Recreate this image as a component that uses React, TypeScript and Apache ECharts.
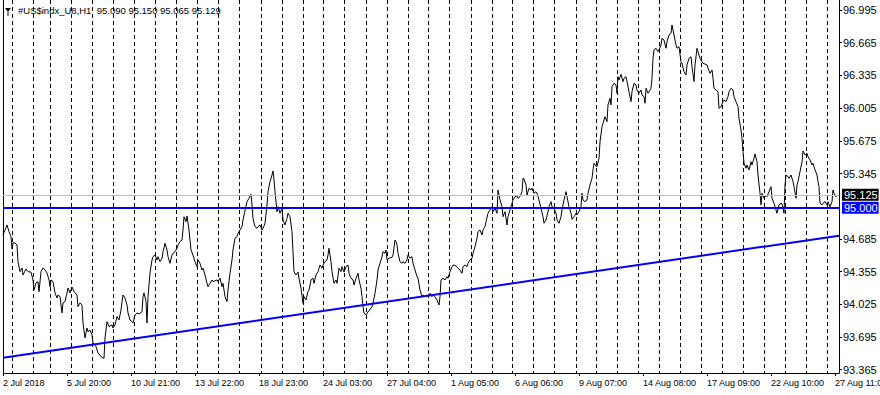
import React, { useEffect, useRef } from "react";
import * as echarts from "echarts";

const FONT = '"Liberation Sans", Arial, sans-serif';

const symbolTitle = "#US$indx_U8,H1  95.090 95.150 95.065 95.129";

// [bar index (H1 bars from 2 Jul 2018), close price]
const priceTrace: [number, number][] = [
  [0, 94.725], [2, 94.775], [4, 94.826], [6, 94.758], [8, 94.708], [9, 94.584], [10, 94.647], [12, 94.644], [14, 94.624], [15, 94.455],
  [17, 94.355], [19, 94.392], [20, 94.321], [23, 94.382], [25, 94.355], [28, 94.35], [30, 94.271], [31, 94.17], [33, 94.241], [35, 94.254],
  [36, 94.153], [38, 94.355], [40, 94.392], [42, 94.372], [44, 94.341], [46, 94.271], [47, 94.203], [48, 94.271], [50, 94.254], [52, 94.14],
  [54, 94.089], [55, 94.119], [57, 94.102], [59, 93.938], [60, 94.039], [62, 94.052], [64, 94.14], [65, 94.19], [67, 94.14], [69, 94.2],
  [71, 94.153], [74, 94.119], [75, 94.001], [77, 94.039], [79, 94.018], [80, 93.837], [82, 93.686], [84, 93.786], [85, 93.749], [87, 93.766],
  [89, 93.716], [90, 93.635], [93, 93.598], [95, 93.534], [98, 93.497], [100, 93.484], [101, 93.48], [102, 93.686], [104, 93.85], [106, 93.8],
  [109, 93.817], [110, 93.786], [112, 93.817], [114, 93.901], [116, 93.867], [118, 93.968], [119, 94.052], [120, 94.119], [122, 94.089], [124, 94.018],
  [125, 93.938], [127, 93.867], [129, 93.85], [130, 93.837], [132, 93.918], [134, 93.938], [136, 93.928], [139, 93.951], [140, 94.102], [141, 94.14],
  [143, 94.052], [144, 93.837], [145, 94.102], [147, 94.341], [149, 94.473], [150, 94.506], [152, 94.523], [154, 94.473], [155, 94.506], [157, 94.455],
  [159, 94.49], [160, 94.556], [162, 94.641], [164, 94.573], [165, 94.506], [167, 94.439], [169, 94.523], [170, 94.54], [172, 94.556], [174, 94.591],
  [175, 94.624], [177, 94.657], [179, 94.674], [180, 94.775], [181, 94.909], [183, 94.859], [184, 94.917], [186, 94.775], [188, 94.573], [190, 94.523],
  [192, 94.455], [194, 94.405], [195, 94.473], [197, 94.439], [199, 94.372], [200, 94.389], [202, 94.321], [204, 94.237], [205, 94.203], [207, 94.237],
  [209, 94.271], [210, 94.254], [214, 94.271], [215, 94.254], [217, 94.288], [219, 94.203], [220, 94.237], [222, 94.102], [224, 94.052], [225, 94.17],
  [227, 94.338], [229, 94.473], [230, 94.573], [232, 94.692], [234, 94.708], [235, 94.742], [237, 94.775], [239, 94.809], [240, 94.876], [242, 94.97],
  [244, 95.061], [246, 95.095], [248, 95.136], [249, 95.028], [250, 94.893], [252, 94.809], [254, 94.792], [255, 94.809], [257, 94.826], [259, 94.775],
  [260, 94.792], [262, 94.843], [264, 95.028], [265, 95.162], [267, 95.263], [269, 95.33], [270, 95.371], [271, 95.28], [272, 95.162], [274, 94.96],
  [275, 95.01], [277, 94.944], [279, 94.994], [280, 94.876], [282, 94.826], [284, 94.893], [285, 94.944], [287, 94.909], [289, 94.758], [290, 94.556],
  [291, 94.355], [293, 94.321], [295, 94.35], [296, 94.288], [298, 94.187], [300, 94.036], [301, 94.102], [303, 94.069], [305, 94.153], [306, 94.17],
  [308, 94.271], [310, 94.288], [311, 94.237], [313, 94.321], [315, 94.355], [317, 94.422], [319, 94.389], [320, 94.422], [322, 94.455], [324, 94.473],
  [325, 94.523], [326, 94.591], [328, 94.455], [329, 94.355], [331, 94.237], [333, 94.271], [334, 94.237], [336, 94.389], [338, 94.355], [339, 94.405],
  [341, 94.35], [343, 94.405], [345, 94.422], [346, 94.338], [348, 94.288], [350, 94.271], [351, 94.22], [353, 94.288], [355, 94.338], [356, 94.271],
  [358, 94.187], [359, 94.102], [360, 94.001], [361, 93.935], [363, 93.918], [365, 93.948], [369, 94.001], [370, 94.036], [372, 94.137], [374, 94.271],
  [375, 94.372], [377, 94.439], [379, 94.506], [380, 94.556], [382, 94.54], [383, 94.573], [384, 94.473], [386, 94.49], [389, 94.5], [390, 94.523],
  [392, 94.674], [393, 94.657], [394, 94.624], [395, 94.54], [397, 94.455], [399, 94.439], [400, 94.455], [402, 94.439], [404, 94.473], [405, 94.523],
  [407, 94.49], [409, 94.506], [410, 94.439], [412, 94.372], [414, 94.304], [415, 94.288], [417, 94.17], [419, 94.102], [420, 94.119], [422, 94.102],
  [424, 94.119], [425, 94.102], [427, 94.137], [429, 94.102], [430, 94.119], [432, 94.102], [434, 94.069], [436, 94.018], [437, 94.102], [438, 94.271],
  [440, 94.288], [442, 94.271], [444, 94.304], [445, 94.288], [447, 94.355], [449, 94.405], [450, 94.422], [452, 94.418], [454, 94.405], [455, 94.389],
  [457, 94.372], [459, 94.338], [460, 94.405], [462, 94.422], [464, 94.405], [465, 94.439], [467, 94.473], [469, 94.49], [470, 94.54], [472, 94.607],
  [474, 94.692], [475, 94.758], [477, 94.775], [479, 94.725], [480, 94.775], [481, 94.792], [482, 94.809], [483, 94.859], [485, 94.944], [487, 94.977],
  [489, 95.01], [490, 94.96], [492, 94.994], [494, 94.944], [495, 95.179], [497, 95.078], [499, 95.01], [500, 94.909], [502, 94.96], [504, 94.826],
  [505, 94.909], [507, 94.977], [509, 95.045], [510, 95.078], [512, 95.111], [514, 95.118], [515, 95.095], [517, 95.111], [519, 95.162], [520, 95.297],
  [521, 95.29], [523, 95.229], [524, 95.128], [526, 95.196], [528, 95.179], [529, 95.196], [531, 95.146], [533, 95.162], [534, 95.146], [536, 95.078],
  [538, 94.994], [540, 94.909], [541, 94.843], [543, 94.876], [545, 94.96], [546, 95.01], [548, 95.061], [549, 95.01], [551, 94.994], [553, 94.944],
  [554, 94.876], [556, 94.843], [558, 94.909], [559, 94.977], [561, 95.078], [563, 95.162], [564, 95.111], [566, 95.01], [568, 94.944], [569, 94.883],
  [571, 94.909], [573, 94.944], [574, 94.927], [576, 94.96], [578, 95.01], [579, 95.146], [580, 95.078], [582, 95.061], [584, 95.078], [585, 95.146],
  [587, 95.229], [589, 95.297], [590, 95.381], [591, 95.448], [593, 95.421], [594, 95.414], [596, 95.499], [597, 95.666], [599, 95.818], [600, 95.852],
  [602, 95.918], [604, 95.868], [605, 96.037], [607, 96.104], [608, 96.037], [609, 96.221], [611, 96.256], [613, 96.238], [614, 96.155], [615, 96.322],
  [616, 96.289], [618, 96.346], [620, 96.272], [621, 96.306], [623, 96.322], [624, 96.272], [626, 96.171], [628, 96.07], [629, 96.171], [631, 96.256],
  [633, 96.238], [634, 96.188], [636, 96.155], [638, 96.188], [639, 96.137], [641, 96.12], [642, 96.054], [643, 96.205], [645, 96.155], [646, 96.171],
  [648, 96.205], [649, 96.306], [650, 96.508], [651, 96.591], [653, 96.609], [655, 96.574], [656, 96.591], [658, 96.642], [659, 96.71], [661, 96.692],
  [663, 96.609], [664, 96.675], [666, 96.743], [668, 96.76], [669, 96.844], [671, 96.743], [673, 96.642], [674, 96.609], [676, 96.625], [678, 96.473],
  [679, 96.457], [681, 96.373], [683, 96.339], [684, 96.44], [686, 96.508], [688, 96.524], [689, 96.423], [691, 96.272], [692, 96.44], [694, 96.609],
  [695, 96.574], [697, 96.508], [699, 96.473], [700, 96.457], [702, 96.45], [704, 96.44], [705, 96.407], [707, 96.356], [709, 96.39], [710, 96.306],
  [711, 96.205], [713, 96.188], [715, 96.171], [716, 96.003], [718, 96.019], [720, 96.07], [721, 96.087], [723, 96.07], [725, 96.12], [726, 96.171],
  [728, 96.205], [730, 96.188], [731, 96.12], [733, 96.07], [735, 96.019], [736, 95.902], [738, 95.784], [739, 95.701], [740, 95.565], [741, 95.448],
  [743, 95.398], [744, 95.431], [746, 95.381], [748, 95.464], [749, 95.431], [751, 95.499], [752, 95.542], [754, 95.464], [755, 95.33], [757, 95.146],
  [758, 95.028], [759, 95.146], [761, 95.095], [763, 95.128], [764, 95.111], [766, 95.162], [768, 95.212], [769, 95.095], [771, 95.045], [773, 94.977],
  [774, 94.944], [776, 95.028], [778, 95.045], [779, 95.04], [781, 94.944], [782, 95.229], [783, 95.33], [785, 95.313], [786, 95.297], [788, 95.33],
  [790, 95.263], [791, 95.212], [793, 95.095], [794, 95.229], [795, 95.263], [797, 95.364], [799, 95.464], [800, 95.572], [802, 95.532], [804, 95.549],
  [805, 95.515], [807, 95.482], [809, 95.431], [810, 95.448], [812, 95.381], [814, 95.33], [815, 95.263], [816, 95.212], [817, 95.045], [819, 95.028],
  [820, 95.045], [822, 95.061], [824, 95.028], [825, 95.061], [827, 95.01], [829, 95.061], [830, 95.179], [831, 95.146], [833, 95.111], [834, 95.129],
];

const timeTickBars = [0, 64, 128, 192, 256, 320, 384, 448, 512, 576, 640, 704, 768, 832];
const timeTickLabels = [
  "2 Jul 2018", "5 Jul 20:00", "10 Jul 21:00", "13 Jul 22:00", "18 Jul 23:00", "24 Jul 03:00", "27 Jul 04:00",
  "1 Aug 05:00", "6 Aug 06:00", "9 Aug 07:00", "14 Aug 08:00", "17 Aug 09:00", "22 Aug 10:00", "27 Aug 11:00",
];
const dayBreakBars = [
  9, 30, 47, 68, 89, 110, 131, 152, 173, 194, 215, 236, 258, 279, 300, 320, 341, 363, 384, 405,
  425, 446, 468, 489, 509, 530, 551, 573, 593, 614, 635, 656, 677, 698, 719, 740, 761, 782, 803, 824,
];
const priceTicks = [93.365, 93.695, 94.025, 94.355, 94.685, 95.345, 95.675, 96.005, 96.335, 96.665, 96.995];

const barCount = 836;
const priceMin = 93.332;
const priceMax = 97.096;
const supportLevel = 95.0;
const bidPrice = 95.125;
const trendStart: [number, number] = [0, 93.487];
const trendEnd: [number, number] = [836, 94.718];

export default function App() {
  const ref = useRef<HTMLDivElement>(null);

  useEffect(() => {
    if (!ref.current) return;
    const chart = echarts.init(ref.current, undefined, { renderer: "svg" });
    const tagLabel = (text: string, bg: string) => ({
      show: true,
      position: "end",
      formatter: text,
      color: "#ffffff",
      backgroundColor: bg,
      fontFamily: FONT,
      fontSize: 11,
      lineHeight: 11,
      padding: [1, 1, 0, 2],
      distance: 3,
    });
    chart.setOption({
      animation: false,
      backgroundColor: "#ffffff",
      grid: { left: 3, top: 0, width: 836, height: 373, containLabel: false, outerBoundsMode: "none" },
      xAxis: [
        {
          type: "value",
          min: 0,
          max: barCount,
          position: "bottom",
          axisLine: { show: true, onZero: false, lineStyle: { color: "#000", width: 1 } },
          axisTick: { show: true, customValues: timeTickBars, length: 3, lineStyle: { color: "#000" } },
          axisLabel: {
            show: true,
            customValues: timeTickBars,
            formatter: (v: number) => timeTickLabels[timeTickBars.indexOf(Math.round(v))] ?? "",
            align: "left",
            margin: 5,
            color: "#000",
            fontFamily: FONT,
            fontSize: 9,
            hideOverlap: false,
          },
          splitLine: { show: false },
        },
        {
          type: "value",
          min: 0,
          max: barCount,
          position: "top",
          axisLine: { show: false },
          axisTick: { show: false, customValues: dayBreakBars },
          axisLabel: { show: false },
          splitLine: { show: true, lineStyle: { color: "#000", width: 1, type: [4, 3] } },
        },
      ],
      yAxis: [
        {
          type: "value",
          min: priceMin,
          max: priceMax,
          position: "right",
          axisLine: { show: true, onZero: false, lineStyle: { color: "#000", width: 1 } },
          axisTick: { show: true, customValues: priceTicks, length: 3, lineStyle: { color: "#000" } },
          axisLabel: {
            show: true,
            customValues: priceTicks,
            formatter: (v: number) => v.toFixed(3),
            margin: 4,
            color: "#000",
            fontFamily: FONT,
            fontSize: 11,
          },
          splitLine: { show: false },
        },
        {
          type: "value",
          min: priceMin,
          max: priceMax,
          position: "left",
          axisLine: { show: true, onZero: false, lineStyle: { color: "#000", width: 1 } },
          axisTick: { show: false },
          axisLabel: { show: false },
          splitLine: { show: false },
        },
      ],
      graphic: [
        { type: "polygon", shape: { points: [[5, 8], [11, 8], [8, 12]] }, style: { fill: "#000" } },
        { type: "line", shape: { x1: 8, y1: 12, x2: 8, y2: 16 }, style: { stroke: "#000", lineWidth: 1 } },
        {
          type: "text",
          x: 18,
          y: 10.5,
          style: { text: symbolTitle, fill: "#000", fontFamily: FONT, fontSize: 9.5, verticalAlign: "middle" },
        },
      ],
      series: [
        {
          type: "line",
          xAxisIndex: 0,
          yAxisIndex: 0,
          data: priceTrace,
          showSymbol: false,
          symbol: "none",
          clip: false,
          lineStyle: { color: "#000", width: 1 },
          markLine: {
            silent: true,
            symbol: ["none", "none"],
            animation: false,
            data: [
              {
                yAxis: bidPrice,
                lineStyle: { color: "#c0c0c0", width: 1, type: "solid" },
                label: tagLabel(bidPrice.toFixed(3), "#000000"),
              },
              {
                yAxis: supportLevel,
                lineStyle: { color: "#0000ff", width: 2, type: "solid" },
                label: tagLabel(supportLevel.toFixed(3), "#0000ff"),
              },
              [
                { coord: trendStart, lineStyle: { color: "#0000ff", width: 2, type: "solid" }, label: { show: false } },
                { coord: trendEnd },
              ],
            ],
          },
        },
      ],
    });
    return () => chart.dispose();
  }, []);

  return <div ref={ref} style={{ position: "absolute", left: 0, top: 0, width: 880, height: 395 }} />;
}
